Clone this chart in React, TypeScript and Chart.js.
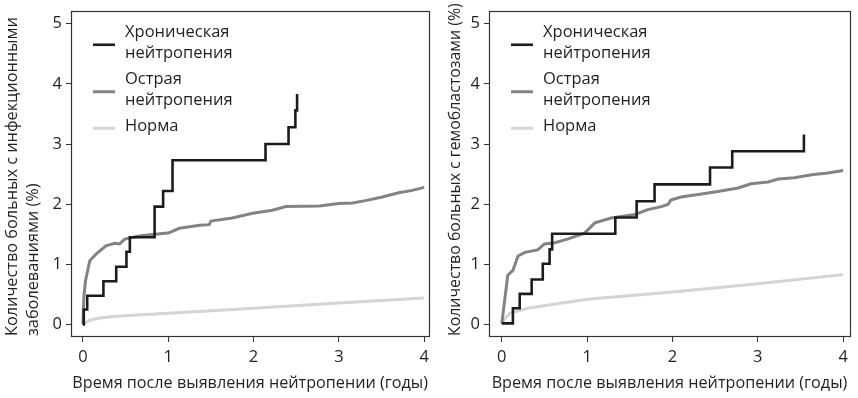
import React, { useEffect, useRef } from "react";
import { Chart, registerables } from "chart.js";

Chart.register(...registerables);

// ---------- data ----------
const xTicks = [0, 1, 2, 3, 4];
const yTicks = [0, 1, 2, 3, 4, 5];

const seriesLabels = [
  ["Хроническая", "нейтропения"],
  ["Острая", "нейтропения"],
  ["Норма"],
];

const xTitle = "Время после выявления нейтропении (годы)";
const leftYTitle = ["Количество больных с инфекционными", "заболеваниями (%)"];
const rightYTitle = "Количество больных с гемобластозами (%)";

// Left panel: infections
const leftChronicX = [0, 0.01, 0.05, 0.24, 0.39, 0.51, 0.55, 0.84, 0.94, 1.05, 2.14, 2.41, 2.49, 2.51];
const leftChronicY = [0, 0.25, 0.48, 0.72, 0.96, 1.21, 1.45, 1.96, 2.22, 2.73, 3.0, 3.28, 3.56, 3.83];

const leftAcuteX = [0, 0.01, 0.03, 0.08, 0.16, 0.27, 0.37, 0.43, 0.49, 0.66, 0.84, 1.0, 1.13, 1.37, 1.48, 1.5, 1.75, 1.99, 2.22, 2.38, 2.77, 3.0, 3.16, 3.31, 3.51, 3.7, 3.86, 4.0];
const leftAcuteY = [0, 0.45, 0.73, 1.06, 1.18, 1.31, 1.35, 1.34, 1.42, 1.47, 1.5, 1.52, 1.6, 1.65, 1.66, 1.72, 1.77, 1.85, 1.9, 1.96, 1.97, 2.01, 2.02, 2.06, 2.12, 2.19, 2.23, 2.28];

const leftNormalX = [0, 0.05, 0.1, 0.2, 0.39, 1.0, 2.0, 3.0, 4.0];
const leftNormalY = [0, 0.05, 0.08, 0.11, 0.14, 0.19, 0.27, 0.36, 0.44];

// Right panel: hemoblastoses
const rightChronicX = [0, 0.13, 0.21, 0.35, 0.48, 0.56, 0.59, 1.33, 1.58, 1.79, 2.44, 2.7, 3.54];
const rightChronicY = [0.02, 0.27, 0.51, 0.75, 1.01, 1.25, 1.51, 1.78, 2.05, 2.33, 2.61, 2.88, 3.16];

const rightAcuteX = [0, 0.07, 0.13, 0.19, 0.27, 0.42, 0.5, 0.62, 0.77, 0.97, 1.09, 1.28, 1.56, 1.71, 1.87, 1.95, 1.98, 2.1, 2.34, 2.53, 2.77, 2.92, 3.12, 3.24, 3.43, 3.63, 3.82, 4.0];
const rightAcuteY = [0.02, 0.82, 0.9, 1.14, 1.2, 1.24, 1.34, 1.36, 1.42, 1.52, 1.69, 1.77, 1.83, 1.91, 1.96, 2.0, 2.07, 2.12, 2.17, 2.21, 2.27, 2.34, 2.37, 2.42, 2.44, 2.49, 2.52, 2.56];

const rightNormalX = [0, 0.05, 0.1, 0.3, 1.0, 2.0, 3.0, 4.0];
const rightNormalY = [0.02, 0.12, 0.19, 0.27, 0.42, 0.54, 0.68, 0.83];

// ---------- style ----------
const FONT = "'Open Sans', 'DejaVu Sans', sans-serif";
const TEXT = "#231f20";
const COLORS = ["#1c1c1c", "#838383", "#d4d4d4"];
const WIDTHS = [2.6, 3, 3];

const pts = (xs: number[], ys: number[]) => xs.map((x, i) => ({ x, y: ys[i] }));

const framePlugin = {
  id: "frame",
  afterDraw(chart: any) {
    const { ctx, chartArea } = chart;
    ctx.save();
    ctx.strokeStyle = "#333";
    ctx.lineWidth = 1.2;
    ctx.strokeRect(
      Math.round(chartArea.left) + 0.5,
      Math.round(chartArea.top) - 0.5,
      Math.round(chartArea.right - chartArea.left),
      Math.round(chartArea.bottom - chartArea.top) + 1
    );
    ctx.restore();
  },
};

const insideLegend = {
  id: "insideLegend",
  afterDatasetsDraw(chart: any) {
    const { ctx, chartArea } = chart;
    const lh = 21;
    const gap = 5;
    let y = chartArea.top + 20;
    ctx.save();
    ctx.font = `16.5px ${FONT}`;
    ctx.textBaseline = "middle";
    ctx.textAlign = "left";
    chart.data.datasets.forEach((ds: any, i: number) => {
      const lines: string[] = seriesLabels[i];
      const mid = y + 2 + ((lines.length - 1) * lh) / 2;
      ctx.strokeStyle = ds.borderColor;
      ctx.lineWidth = ds.borderWidth;
      ctx.beginPath();
      ctx.moveTo(chartArea.left + 22, mid);
      ctx.lineTo(chartArea.left + 44, mid);
      ctx.stroke();
      ctx.fillStyle = TEXT;
      lines.forEach((t, k) => ctx.fillText(t, chartArea.left + 54, y + k * lh));
      y += lines.length * lh + gap;
    });
    ctx.restore();
  },
};

function makeConfig(
  chronic: any[],
  acute: any[],
  normal: any[],
  yTitle: string | string[],
  yTitleSize: number,
  yWidth: number,
  yTitlePad: number,
  rightPad: number,
  xMin: number,
  xMax: number
): any {
  const mk = (i: number, data: any[], stepped: any) => ({
    label: seriesLabels[i].join(" "),
    data,
    borderColor: COLORS[i],
    backgroundColor: COLORS[i],
    borderWidth: WIDTHS[i],
    pointRadius: 0,
    tension: 0,
    stepped,
    fill: false,
    borderJoinStyle: "miter",
    borderCapStyle: "butt",
  });
  const tickFont = { family: FONT, size: 16.5, lineHeight: 1 };
  return {
    type: "line",
    data: {
      datasets: [mk(0, chronic, "before"), mk(1, acute, false), mk(2, normal, false)],
    },
    options: {
      responsive: false,
      animation: false,
      layout: { padding: { top: 8, right: rightPad, left: 0, bottom: 0 } },
      plugins: { legend: { display: false }, tooltip: { enabled: false } },
      scales: {
        x: {
          type: "linear",
          min: xMin,
          max: xMax,
          afterBuildTicks: (s: any) => {
            s.ticks = xTicks.map((v) => ({ value: v }));
          },
          afterFit: (s: any) => {
            s.height = 62;
          },
          grid: { drawOnChartArea: false, drawTicks: true, tickLength: 6, color: "#333", lineWidth: 1 },
          border: { display: false },
          ticks: { padding: 7, font: tickFont, color: TEXT, maxRotation: 0, callback: (v: any) => String(v) },
          title: {
            display: true,
            text: xTitle,
            font: { family: FONT, size: 16.2, lineHeight: 1.2 },
            color: TEXT,
            padding: { top: 0, bottom: 5 },
          },
        },
        y: {
          type: "linear",
          min: -0.19,
          max: 5.19,
          afterBuildTicks: (s: any) => {
            s.ticks = yTicks.map((v) => ({ value: v }));
          },
          afterFit: (s: any) => {
            s.width = yWidth;
          },
          grid: { drawOnChartArea: false, drawTicks: true, tickLength: 5, color: "#333", lineWidth: 1 },
          border: { display: false },
          ticks: { padding: 4, font: tickFont, color: TEXT, callback: (v: any) => String(v) },
          title: {
            display: true,
            text: yTitle,
            align: "start",
            font: { family: FONT, size: yTitleSize, lineHeight: 1.3 },
            color: TEXT,
            padding: { top: yTitlePad, bottom: 0 },
          },
        },
      },
    },
    plugins: [framePlugin, insideLegend],
  };
}

function Panel(props: { left: number; width: number; config: () => any }) {
  const ref = useRef<HTMLCanvasElement | null>(null);
  useEffect(() => {
    if (!ref.current) return;
    const chart = new Chart(ref.current, props.config());
    return () => chart.destroy();
  }, []);
  return (
    <canvas
      ref={ref}
      width={props.width}
      height={398}
      style={{ position: "absolute", left: props.left, top: 0, width: props.width, height: 398 }}
    />
  );
}

export default function App() {
  return (
    <div style={{ position: "fixed", left: 0, top: 0, width: 858, height: 398, background: "#fff" }}>
      <Panel
        left={0}
        width={436}
        config={() =>
          makeConfig(
            pts(leftChronicX, leftChronicY),
            pts(leftAcuteX, leftAcuteY),
            pts(leftNormalX, leftNormalY),
            leftYTitle,
            16.3,
            71,
            2,
            6,
            -0.14,
            4.06
          )
        }
      />
      <Panel
        left={436}
        width={422}
        config={() =>
          makeConfig(
            pts(rightChronicX, rightChronicY),
            pts(rightAcuteX, rightAcuteY),
            pts(rightNormalX, rightNormalY),
            rightYTitle,
            15.9,
            53,
            9,
            8,
            -0.15,
            4.08
          )
        }
      />
    </div>
  );
}
